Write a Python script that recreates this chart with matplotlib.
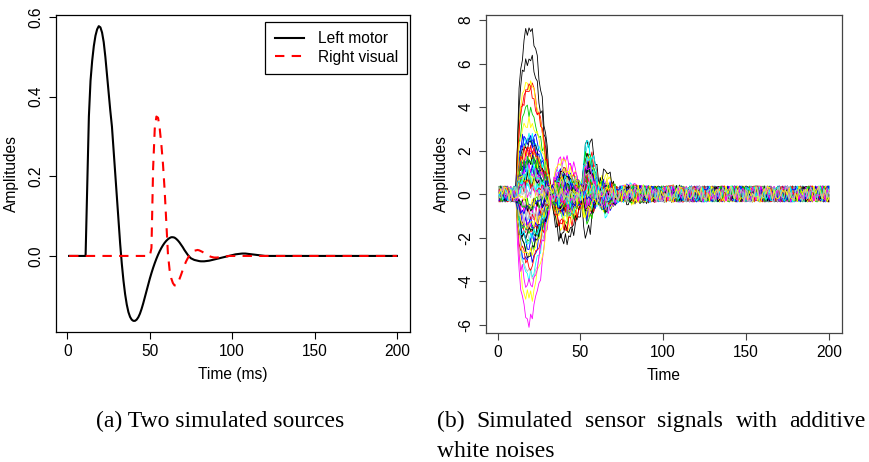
import matplotlib
matplotlib.use('Agg')
import matplotlib.pyplot as plt
import numpy as np

plt.rcParams['font.family'] = ['Liberation Sans', 'DejaVu Sans']
plt.rcParams['axes.unicode_minus'] = False

# time axis (ms), both panels
time_ms = np.arange(1, 201)

# left motor source for t = 11..120 (zero elsewhere)
motor_onset = 11
motor_active = [
    0.0, 0.18, 0.35, 0.44, 0.49, 0.527, 0.553, 0.569, 0.577, 0.574,
    0.561, 0.537, 0.50, 0.455, 0.41, 0.365, 0.325, 0.266, 0.207, 0.148,
    0.089, 0.03, -0.02, -0.062, -0.096, -0.122, -0.141, -0.153, -0.16, -0.163,
    -0.163, -0.16, -0.154, -0.145, -0.133, -0.119, -0.104, -0.088, -0.072, -0.057,
    -0.043, -0.03, -0.018, -0.007, 0.003, 0.012, 0.02, 0.027, 0.033, 0.038,
    0.042, 0.045, 0.047, 0.047, 0.046, 0.043, 0.039, 0.034, 0.028, 0.022,
    0.015, 0.009, 0.003, -0.002, -0.006, -0.008, -0.01, -0.011, -0.012, -0.013,
    -0.0135, -0.0135, -0.0135, -0.013, -0.0125, -0.012, -0.011, -0.01, -0.009, -0.008,
    -0.007, -0.006, -0.005, -0.004, -0.003, -0.002, -0.001, 0.0, 0.001, 0.002,
    0.003, 0.004, 0.0045, 0.005, 0.0055, 0.006, 0.006, 0.006, 0.0055, 0.005,
    0.0045, 0.004, 0.0035, 0.003, 0.0025, 0.002, 0.0015, 0.001, 0.0005, 0.0]

# right visual source for t = 51..100 (zero elsewhere)
visual_onset = 51
visual_active = [
    0.02, 0.22, 0.32, 0.35, 0.347, 0.32, 0.28, 0.23, 0.165, 0.085,
    0.005, -0.035, -0.056, -0.068, -0.074, -0.074, -0.068, -0.058, -0.047, -0.035,
    -0.024, -0.014, -0.006, 0.001, 0.007, 0.01, 0.013, 0.014, 0.015, 0.014,
    0.012, 0.01, 0.007, 0.004, 0.002, 0.0, -0.002, -0.003, -0.004, -0.004,
    -0.004, -0.003, -0.003, -0.002, -0.002, -0.001, -0.001, 0.0, 0.0, 0.0]

# sensor amplitudes: value at the motor peak (t~19)
# and at the visual peak (t~54); order follows R palette colours
motor_peaks = [
    7.6, 5.0, 3.9, 2.8, -3.7, -5.8, 5.1, -3.8,
    6.3, 4.8, 2.4, -3.0, 2.6, 1.9, -4.8, 0.6,
    2.2, -3.2, -2.4, 2.5, 1.4, -4.2, 3.4, -2.0,
    -2.6, 1.8, 1.2, -2.2, -1.0, 0.9, -2.8, 1.1,
    1.5, -1.6, -1.8, 1.7, 0.5, -1.3, 1.9, -0.8,
    -1.9, 2.0, 0.8, -1.4, -2.0, 1.2, -1.5, 0.4,
    0.7, -0.9, 1.6, 1.1, 0.3, -0.6, 0.8, -1.2,
    -0.5, 0.4, -0.4, -0.7, 1.0, 0.2, -0.3, 0.1]
visual_peaks = [
    2.4, 1.6, 1.2, 1.0, 2.2, -0.6, -1.2, 0.3,
    -1.8, 1.9, -0.5, 1.4, 2.0, -0.9, 1.1, -0.3,
    0.9, -0.8, 1.7, 0.6, -0.4, 1.3, -1.0, 0.5,
    1.5, 0.4, -1.1, 0.8, 1.2, -0.2, 0.7, -0.7,
    -0.4, 1.1, 0.3, -0.9, 0.9, 0.6, -0.5, 1.0,
    0.2, -0.3, 0.9, 1.3, -0.6, 0.4, 1.4, -0.1,
    1.1, 0.7, -0.2, 0.5, 1.6, -0.4, 0.2, 0.8,
    -0.7, 0.5, 0.6, -0.2, 0.3, 1.0, -0.8, 0.6]

# white noise samples (amplitude estimated from the flat part of panel (b))
noise_pool = [
    0.16, -0.27, 0.07, 0.36, -0.12, -0.22, 0.29, 0.01, -0.34, 0.18,
    0.09, -0.16, 0.25, -0.04, -0.31, 0.13, 0.33, -0.20, 0.04, -0.09,
    0.22, -0.26, 0.10, 0.38, -0.14, -0.03, 0.20, -0.35, 0.08, 0.26,
    -0.18, 0.00, 0.30, -0.08, -0.25, 0.14, -0.30, 0.21, 0.05, -0.13,
    0.34, -0.21, 0.12, -0.05, 0.23, -0.33, 0.03, 0.17, -0.10, -0.29,
    0.27, -0.17, 0.35]

r_palette = ['black', '#FF0000', '#00CD00', '#0000FF',
             '#00FFFF', '#FF00FF', '#FFFF00', '#BEBEBE']


def source_series(active, onset):
    values = np.zeros(len(time_ms))
    values[onset - 1:onset - 1 + len(active)] = active
    return values


def sensor_noise(i):
    n = len(noise_pool)
    stride = (i * 7) % (n - 1) + 1
    offset = (i * 11) % n
    idx = (np.arange(len(time_ms)) * stride + offset) % n
    return np.asarray(noise_pool)[idx]


def style_axes(ax, yticks, ylabels, xlabel, spine_color):
    ax.set_xlim(1 - 7.96, 200 + 7.96)
    ax.set_xticks([0, 50, 100, 150, 200])
    ax.set_xticklabels(['0', '50', '100', '150', '200'])
    ax.set_yticks(yticks)
    ax.set_yticklabels(ylabels, rotation=90, va='center')
    ax.tick_params(direction='out', length=5, width=0.8, labelsize=11.2,
                   color=spine_color)
    ax.tick_params(axis='x', pad=3.5)
    ax.tick_params(axis='y', pad=4)
    for sp in ax.spines.values():
        sp.set_linewidth(0.9)
        sp.set_color(spine_color)
    ax.set_xlabel(xlabel, fontsize=11.2)
    ax.set_ylabel('Amplitudes', fontsize=11.2)
    ax.xaxis.label.set_va('center')
    ax.yaxis.label.set_va('center')
    ax.xaxis.set_label_coords(0.5, -0.135)
    ax.yaxis.set_label_coords(-0.125, 0.5)


def justify_words(fig, words, x0_px, x1_px, y, **kw):
    texts = [fig.text(0, y, w, **kw) for w in words]
    fig.canvas.draw()
    r = fig.canvas.get_renderer()
    widths = [t.get_window_extent(r).width for t in texts]
    gap = (x1_px - x0_px - sum(widths)) / (len(words) - 1)
    x = x0_px
    for t, w in zip(texts, widths):
        t.set_x(x / fig.bbox.width)
        x += w + gap


left_motor = source_series(motor_active, motor_onset)
right_visual = source_series(visual_active, visual_onset)

fig = plt.figure(figsize=(8.69, 4.62), dpi=100)
ax1 = fig.add_axes([56 / 869, 130 / 462, 354 / 869, 317 / 462])
ax2 = fig.add_axes([486 / 869, 129 / 462, 356 / 869, 318 / 462])

# (a) two sources
ax1.plot(time_ms, left_motor, color='black', lw=1.5, label='Left motor')
ax1.plot(time_ms, right_visual, color='red', lw=1.5, dashes=(4.5, 3.5),
         label='Right visual')
ax1.set_ylim(-0.191, 0.605)
style_axes(ax1, [0.0, 0.2, 0.4, 0.6], ['0.0', '0.2', '0.4', '0.6'],
           'Time (ms)', 'black')
leg = ax1.legend(loc='upper right', bbox_to_anchor=(0.992, 0.979),
                 borderaxespad=0, fontsize=11.2, fancybox=False,
                 edgecolor='black', framealpha=1, handlelength=1.85,
                 handletextpad=0.9, labelspacing=0.25, borderpad=0.6)
leg.get_frame().set_linewidth(0.9)

# (b) sensor signals = mixed sources + white noise
motor_peak_val = max(motor_active)
visual_peak_val = max(visual_active)
for i, (mp, vp) in enumerate(zip(motor_peaks, visual_peaks)):
    signal = (mp / motor_peak_val) * left_motor \
        + (vp / visual_peak_val) * right_visual + sensor_noise(i)
    ax2.plot(time_ms, signal, color=r_palette[i % 8], lw=0.6)
ax2.set_ylim(-6.37, 8.23)
style_axes(ax2, list(range(-6, 9, 2)), [str(v) for v in range(-6, 9, 2)],
           'Time', '#444444')

# captions
cap = dict(family=['Liberation Serif', 'DejaVu Serif'], fontsize=17,
           va='baseline')
fig.text(96 / 869, (462 - 427.3) / 462, '(a) Two simulated sources', **cap)
justify_words(fig, ['(b)', 'Simulated', 'sensor', 'signals', 'with',
                    'additive'], 437, 866, (462 - 427.3) / 462, **cap)
fig.text(437 / 869, (462 - 457.3) / 462, 'white noises', **cap)

plt.savefig('out.png', dpi=100)
